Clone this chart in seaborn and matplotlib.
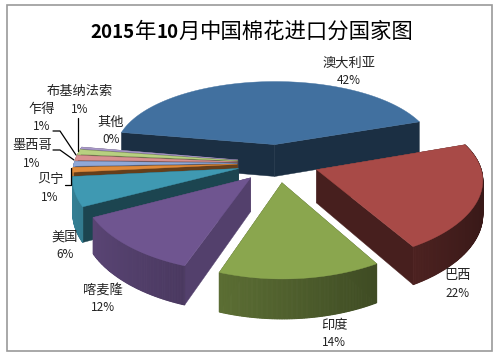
import numpy as np
import matplotlib
matplotlib.use("Agg")
import matplotlib.pyplot as plt
from matplotlib.patches import Polygon, Rectangle
import seaborn as sns

# data
countries = ["澳大利亚", "巴西", "印度", "喀麦隆", "美国", "贝宁", "墨西哥", "乍得", "布基纳法索", "其他"]
shares = [42, 22, 14, 12, 6, 1, 1, 1, 1, 0.4]
title_parts = ["2015", "年", "10", "月", "中国棉花进口分国家图"]

# style
colors = sns.color_palette(["#41709F", "#A84A47", "#8AA64E", "#6F5590", "#3F99B2",
                            "#E08A3A", "#8FA8D8", "#D89090", "#B8D080", "#A898C8"])
cut_shade = [0.42, 0.42, 0.5, 0.75, 0.45, 0.45, 0.5, 0.5, 0.5, 0.5]
label_pos = [(349, 63), (458, 276), (334, 325), (103, 290), (65, 237),
             (50, 180), (32, 146), (42, 109), (80, 92), (111, 122)]
title_x = [90, 135, 157, 178, 200]
title_w = ["bold", "normal", "bold", "normal", "normal"]
title_s = [13.5, 15.4, 13.5, 15.4, 15.4]

sns.set_theme(style="white")
plt.rcParams["font.family"] = ["Noto Sans CJK SC", "DejaVu Sans"]

cx, cy = 278, 163      # pie centre on the canvas
ax_a, ax_b = 163, 76.6 # ellipse half axes
persp = 0.14
persp_x = 0.11
depth = 33
explode = 0.25
start = 170            # degrees, slices run clockwise


def project(X, Y, z=0.0):
    s = 1 / (1 + persp * Y)
    return cx + ax_a * X / (1 + persp_x * Y), cy - ax_b * Y * s + depth * z * s


def shade(c, f):
    return tuple(min(1, v * f) for v in c)


fig = plt.figure(figsize=(4.96, 3.58), dpi=100)
ax = fig.add_axes([0, 0, 1, 1])
ax.set_xlim(0, 496)
ax.set_ylim(358, 0)
ax.axis("off")
ax.add_patch(Rectangle((6.5, 4.5), 485, 346.5, fill=False, ec="#9A9A9A", lw=1.2))

total = sum(shares)
slices = []
a0 = start
for i, v in enumerate(shares):
    a1 = a0 - v / total * 360
    slices.append((i, a0, a1))
    a0 = a1

# back to front
slices.sort(key=lambda t: -np.sin(np.radians((t[1] + t[2]) / 2)))

for i, a0, a1 in slices:
    mid = np.radians((a0 + a1) / 2)
    ox, oy = explode * np.cos(mid), explode * np.sin(mid)
    ang = np.radians(np.linspace(a0, a1, max(int(abs(a1 - a0)) * 2, 4)))
    rx, ry = ox + np.cos(ang), oy + np.sin(ang)
    c = colors[i]

    # cut faces
    for j in (0, -1):
        top_a, bot_a = project(ox, oy), project(ox, oy, 1)
        top_b, bot_b = project(rx[j], ry[j]), project(rx[j], ry[j], 1)
        ax.add_patch(Polygon([top_a, top_b, bot_b, bot_a], fc=shade(c, cut_shade[i]),
                             ec=shade(c, cut_shade[i]), lw=0.3))
    # rim, lit from the left (the back slice shows no rim)
    if i > 0:
        for k in range(len(ang) - 1):
            f = 0.5 - 0.5 * np.cos((ang[k] + ang[k + 1]) / 2)
            col = shade(c, 0.33 + 0.5 * f)
            quad = [project(rx[k], ry[k]), project(rx[k + 1], ry[k + 1]),
                    project(rx[k + 1], ry[k + 1], 1), project(rx[k], ry[k], 1)]
            ax.add_patch(Polygon(quad, fc=col, ec=col, lw=0.7))
    # top face
    pts = [project(ox, oy)] + [project(x, y) for x, y in zip(rx, ry)]
    ax.add_patch(Polygon(pts, fc=c, ec=c, lw=0.3))

# labels
for name, v, (x, y) in zip(countries, shares, label_pos):
    ax.text(x, y, name, ha="center", va="center", fontsize=9.5, color="#222222")
    ax.text(x, y + 17.5, f"{round(v)}%", ha="center", va="center", fontsize=8.5, color="#222222")

# leader lines
for xs, ys in [([78, 78], [118, 151]), ([53, 60, 76], [131, 131, 155]),
               ([53, 60, 74], [150, 150, 160]), ([71, 71, 65], [168, 185, 185])]:
    ax.plot(xs, ys, color="black", lw=0.9)

for part, x, w, s in zip(title_parts, title_x, title_w, title_s):
    ax.text(x, 32, part, ha="left", va="center", fontsize=s, fontweight=w, color="black")

fig.savefig("out.png", dpi=100)
